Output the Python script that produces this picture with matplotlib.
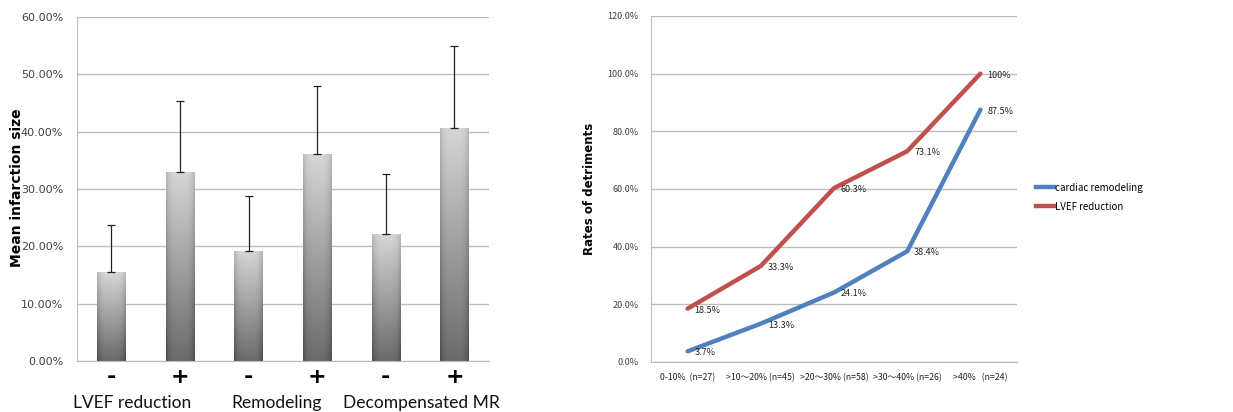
import numpy as np
import matplotlib.pyplot as plt
from matplotlib.lines import Line2D

# left chart: mean infarction size (%)
grupos = ['LVEF reduction', 'Remodeling', 'Decompensated MR']
sinais = ['-', '+', '-', '+', '-', '+']
medias = [15.5, 33.0, 19.2, 36.1, 22.1, 40.7]
topo_erro = [23.8, 45.3, 28.8, 47.9, 32.7, 55.0]

# right chart: rates of detriments (%)
faixas = ['0-10%  (n=27)', '>10\uff5e20% (n=45)', '>20\uff5e30% (n=58)',
          '>30\uff5e40% (n=26)', '>40%   (n=24)']
remodelamento = [3.7, 13.3, 24.1, 38.4, 87.5]
lvef = [18.5, 33.3, 60.3, 73.1, 100.0]
rot_remod = ['3.7%', '13.3%', '24.1%', '38.4%', '87.5%']
rot_lvef = ['18.5%', '33.3%', '60.3%', '73.1%', '100%']

fig = plt.figure(figsize=(12.33, 4.12), dpi=100)
cinza = '#bdbdbd'
texto = '#404040'
cjk = ['Noto Sans CJK JP', 'DejaVu Sans']

# ---------- left ----------
ax = fig.add_axes([0.0624, 0.1238, 0.334, 0.835])
x = np.arange(len(medias)) + 0.5
erro = np.array(topo_erro) - np.array(medias)
barras = ax.bar(x, medias, width=0.41, color='#999999', zorder=2)
ax.errorbar(x, medias, yerr=[np.zeros(len(erro)), erro], fmt='none',
            ecolor='#222222', elinewidth=0.9, capsize=3, capthick=0.9, zorder=3)

# gradient fill inside every bar (light on top, dark at the base)
gy = np.linspace(0, 1, 100)[:, None]
gx = np.linspace(-1, 1, 40)[None, :]
grad = 0.42 + 0.42 * gy - 0.12 * gx ** 4
for b in barras:
    x0, y0 = b.get_x(), b.get_y()
    w, h = b.get_width(), b.get_height()
    im = ax.imshow(grad, cmap='gray', vmin=0, vmax=1, origin='lower',
                   extent=[x0, x0 + w, y0, y0 + h], aspect='auto', zorder=2.5)
    im.set_clip_path(b)

ax.set_xlim(0, 6)
ax.set_ylim(0, 60)
ax.set_yticks(np.arange(0, 61, 10))
ax.set_yticklabels([f'{v:.2f}%' for v in range(0, 61, 10)], fontsize=8, color=texto)
ax.set_xticks(x)
ax.set_xticklabels(sinais, fontsize=16, fontweight='bold')
ax.tick_params(length=0, pad=4)
ax.tick_params(axis='y', pad=10)
ax.yaxis.grid(True, color=cinza, linewidth=1, zorder=0)
for lado in ['top', 'right']:
    ax.spines[lado].set_visible(False)
ax.spines['left'].set_color(cinza)
ax.spines['bottom'].set_color(cinza)
fig.text(17 / 1233, 1 - 188 / 412, 'Mean infarction size', rotation=90,
         ha='center', va='center', fontsize=10, fontweight='bold')
for g, px in zip(grupos, [132, 277, 421]):
    fig.text(px / 1233, 1 - 403 / 412, g, ha='center', va='center',
             fontsize=12.5, family='Lato', color='#111111')

# ---------- right ----------
ax2 = fig.add_axes([0.528, 0.1214, 0.2968, 0.8398])
xs = np.arange(len(faixas)) + 0.5
azul = '#4f81bd'
vermelho = '#c0504d'
ax2.plot(xs, remodelamento, color=azul, linewidth=3.2, solid_capstyle='round', zorder=3)
ax2.plot(xs, lvef, color=vermelho, linewidth=3.2, solid_capstyle='round', zorder=3)
for xi, v, t in zip(xs, remodelamento, rot_remod):
    ax2.annotate(t, (xi, v), xytext=(5, -1), textcoords='offset points',
                 ha='left', va='center', fontsize=6.5, color='#222222',
                 family=cjk, zorder=4)
for xi, v, t in zip(xs, lvef, rot_lvef):
    ax2.annotate(t, (xi, v), xytext=(5, -1), textcoords='offset points',
                 ha='left', va='center', fontsize=6.5, color='#222222',
                 family=cjk, zorder=4)
ax2.set_xlim(0, 5)
ax2.set_ylim(0, 120)
ax2.set_yticks(np.arange(0, 121, 20))
ax2.set_yticklabels([f'{v:.1f}%' for v in range(0, 121, 20)], fontsize=6.5,
                    color=texto, family=cjk)
ax2.set_xticks(xs)
ax2.set_xticklabels(faixas, fontsize=6.3, color='#222222', family=cjk)
ax2.tick_params(length=0)
ax2.tick_params(axis='y', pad=9)
ax2.tick_params(axis='x', pad=8)
ax2.yaxis.grid(True, color=cinza, linewidth=1, zorder=0)
for lado in ['top', 'right']:
    ax2.spines[lado].set_visible(False)
ax2.spines['left'].set_color(cinza)
ax2.spines['bottom'].set_color(cinza)
ax2.set_ylabel('Rates of detriments', fontsize=8.5, fontweight='bold', labelpad=8)

alcas = [Line2D([], [], color=azul, linewidth=3.2),
         Line2D([], [], color=vermelho, linewidth=3.2)]
fig.legend(alcas, ['cardiac remodeling', 'LVEF reduction'], loc='upper left',
           bbox_to_anchor=(1027 / 1233, 1 - 174 / 412), frameon=False,
           prop={'size': 7, 'family': cjk},
           handlelength=1.9, handletextpad=0.1, labelspacing=0.9)

fig.savefig('out.png', dpi=100)
